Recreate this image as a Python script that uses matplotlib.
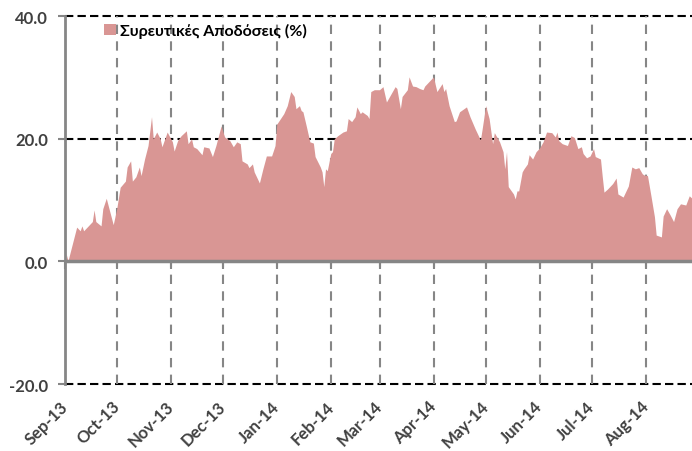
import matplotlib
matplotlib.use("Agg")
import matplotlib.pyplot as plt
import matplotlib.dates as mdates
from matplotlib.patches import Patch
import numpy as np
import datetime as dt

plt.rcParams['font.family'] = ['Lato', 'Noto Sans', 'DejaVu Sans']

start_date = dt.date(2013, 9, 1)
series_name = "Συρευτικές Αποδόσεις (%)"

# day offsets from 2013-09-01
days = [1, 2, 7, 9, 10, 11, 13, 16, 17, 18, 21, 22, 24, 28, 30, 32, 35, 36, 38, 39,
        41, 43, 44, 46, 48, 50, 51, 53, 55, 56, 59, 62, 63, 65, 67, 70, 71, 73, 74, 76,
        79, 80, 83, 85, 87, 90, 92, 95, 97, 99, 101, 102, 105, 106, 108, 109, 112, 114, 116, 119,
        121, 122, 126, 128, 130, 132, 133, 135, 136, 137, 139, 141, 143, 144, 147, 148, 149, 150, 151, 153,
        154, 155, 157, 160, 162, 163, 165, 167, 168, 170, 171, 174, 175, 176, 178, 181, 183, 185, 187, 190,
        191, 193, 194, 197, 198, 200, 202, 204, 206, 207, 210, 212, 214, 217, 218, 219, 221, 224, 225, 227,
        231, 233, 236, 239, 240, 242, 244, 246, 247, 250, 252, 253, 254, 255, 258, 259, 260, 261, 263, 264,
        266, 267, 269, 271, 273, 275, 277, 280, 282, 283, 284, 286, 289, 291, 293, 295, 297, 298, 300, 302,
        304, 305, 308, 309, 310, 312, 315, 317, 318, 321, 324, 326, 328, 330, 332, 333, 335, 337, 339, 340,
        343, 344, 346, 348, 350, 352, 354, 357, 359, 361]

returns = [1.1, 0.0, 5.5, 4.9, 5.7, 4.9, 5.5, 6.4, 8.3, 6.4, 5.7, 8.5, 10.2, 5.9, 8.5, 12.0, 13.0, 15.3, 16.3, 13.0,
           13.7, 15.3, 13.9, 16.6, 18.8, 23.5, 19.9, 21.0, 19.9, 18.6, 21.0, 19.4, 17.9, 19.6, 20.4, 21.2, 19.1, 19.9, 18.6, 18.3,
           17.3, 18.6, 18.4, 17.0, 18.8, 22.0, 20.2, 19.6, 18.6, 19.4, 19.1, 16.3, 15.8, 15.2, 15.8, 14.5, 12.7, 15.0, 17.1, 17.1,
           18.8, 22.3, 24.0, 25.3, 27.6, 26.8, 24.8, 25.3, 24.5, 24.3, 21.9, 19.4, 19.2, 17.0, 15.3, 14.5, 12.1, 15.0, 14.7, 17.5,
           17.8, 19.9, 20.4, 21.0, 21.2, 23.2, 22.7, 23.5, 25.1, 24.0, 24.3, 23.7, 23.2, 27.6, 27.9, 27.9, 28.4, 25.9, 26.9, 28.4,
           28.1, 24.8, 26.8, 27.9, 30.0, 28.5, 28.4, 28.1, 27.9, 28.5, 29.4, 30.0, 27.6, 28.9, 27.6, 28.1, 25.3, 22.7, 22.8, 24.3,
           25.1, 23.5, 21.5, 19.7, 21.5, 25.3, 23.2, 19.1, 20.9, 19.4, 17.8, 15.0, 17.8, 12.1, 10.9, 10.1, 11.4, 11.4, 14.5, 15.0,
           15.8, 17.3, 16.6, 17.8, 18.4, 19.4, 21.0, 20.9, 20.2, 21.0, 19.6, 19.1, 18.8, 20.4, 20.1, 18.3, 18.6, 17.5, 16.8, 17.1,
           18.3, 17.0, 16.6, 13.8, 11.2, 11.7, 12.6, 13.5, 10.9, 10.4, 12.2, 15.3, 15.0, 15.2, 14.2, 14.0, 13.9, 10.6, 7.2, 4.2,
           3.9, 7.3, 8.5, 7.5, 6.4, 8.5, 9.3, 9.1, 10.6, 10.1]

month_starts = [dt.date(2013, 9, 1), dt.date(2013, 10, 1), dt.date(2013, 11, 1), dt.date(2013, 12, 1),
                dt.date(2014, 1, 1), dt.date(2014, 2, 1), dt.date(2014, 3, 1), dt.date(2014, 4, 1),
                dt.date(2014, 5, 1), dt.date(2014, 6, 1), dt.date(2014, 7, 1), dt.date(2014, 8, 1)]
month_labels = ["Sep-13", "Oct-13", "Nov-13", "Dec-13", "Jan-14", "Feb-14",
                "Mar-14", "Apr-14", "May-14", "Jun-14", "Jul-14", "Aug-14"]
y_ticks = [-20, 0, 20, 40]

assert len(days) == len(returns)

x = mdates.date2num([start_date + dt.timedelta(days=d) for d in days])
xt = mdates.date2num(month_starts)

fill_color = "#D99694"
axis_gray = "#868686"
text_color = "#404040"

fig = plt.figure(figsize=(6.92, 4.52), dpi=100)
ax = fig.add_axes([65 / 692, 1 - 385 / 452, (692 - 65) / 692, (385 - 17) / 452])

x0 = mdates.date2num(start_date)
ax.set_xlim(x0, x0 + 360.3)
ax.set_ylim(-20, 40)

# horizontal dashed grid (behind the area)
for v in y_ticks:
    if v != 0:
        ax.axhline(v, color="black", linewidth=1.5, linestyle=(0, (4, 2)), zorder=0.3, clip_on=False)
# vertical dashed month grid (behind the area)
for xv in xt[1:]:
    ax.axvline(xv, color=axis_gray, linewidth=1.5, linestyle=(0, (4.5, 3.5)), zorder=0.3)

ax.fill_between(x, 0, returns, facecolor=fill_color, linewidth=0, zorder=3)

# zero axis line with downward month tick marks
ax.axhline(0, color=axis_gray, linewidth=2.5, zorder=4)
ax.plot(xt, np.zeros(len(xt)), linestyle="none", marker=3, markersize=6,
        markeredgewidth=1.5, color=axis_gray, zorder=4, clip_on=False)

ax.set_yticks(y_ticks)
ax.set_yticklabels([f"{v:.1f}" for v in y_ticks], fontsize=12, fontweight="bold", color=text_color)
ax.set_xticks(xt)
ax.set_xticklabels(month_labels, fontsize=12, fontweight="bold", color=text_color,
                   rotation=45, ha="right", va="center", rotation_mode="anchor")
ax.tick_params(axis="x", length=0, pad=14)
ax.tick_params(axis="y", length=5, width=1.5, color=axis_gray, direction="out", pad=7)
ax.grid(False)

for s in ["top", "right", "bottom"]:
    ax.spines[s].set_visible(False)
ax.spines["left"].set_color(axis_gray)
ax.spines["left"].set_linewidth(2)
ax.spines["left"].set_zorder(5)

handle = Patch(facecolor=fill_color, edgecolor="none")
leg = ax.legend([handle], [series_name], loc="upper left", bbox_to_anchor=(0.04, 1.02),
                frameon=False, handlelength=0.75, handleheight=0.75, handletextpad=0.2,
                prop={"size": 11.5, "weight": "bold"})
for t in leg.get_texts():
    t.set_color("black")

fig.savefig("out.png", dpi=100)
